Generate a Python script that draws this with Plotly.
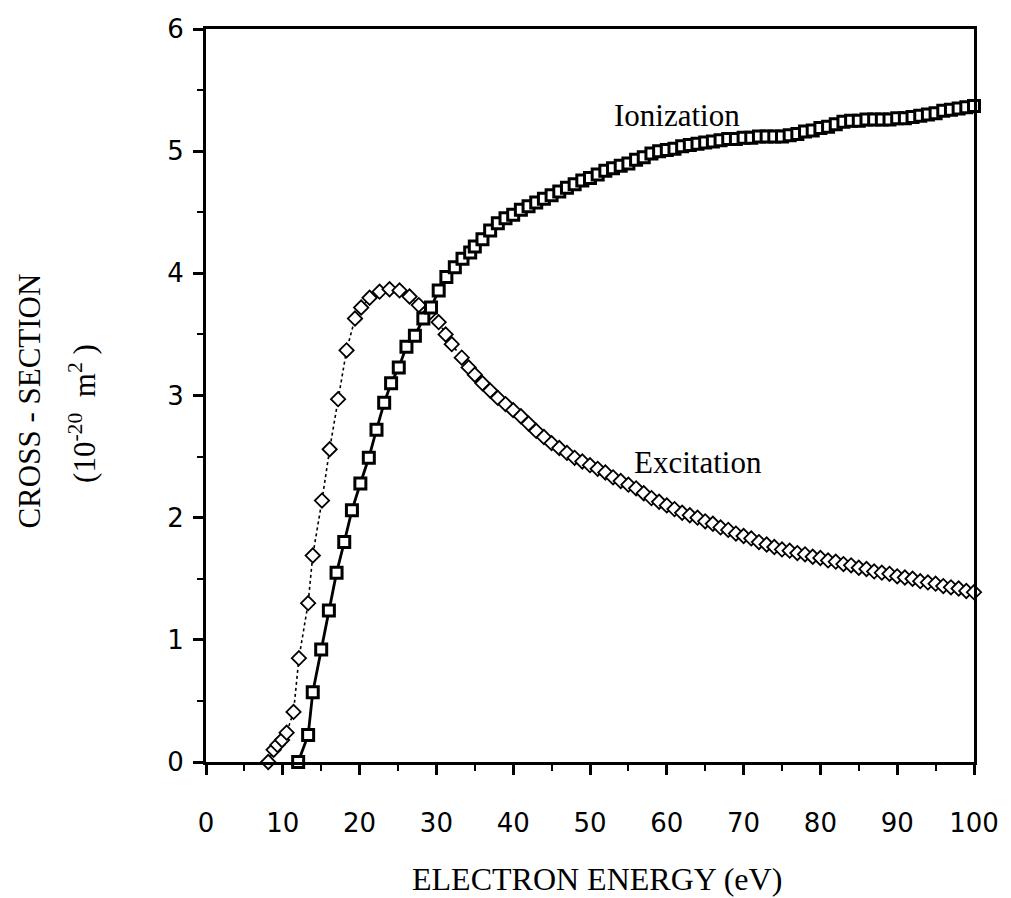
import plotly.graph_objects as go

# Ionization cross-section (10^-20 m^2) vs electron energy (eV)
ion_energy = [12.0, 13.3, 13.9, 15.0, 16.0, 17.0, 18.0, 19.0, 20.1, 21.2, 22.2, 23.2, 24.1,
              25.1, 26.1, 27.2, 28.3, 29.3, 30.3, 31.3, 32.4, 33.4, 34.4,
              35, 36, 37, 38, 39, 40, 41, 42, 43, 44, 45, 46, 47, 48, 49, 50,
              51, 52, 53, 54, 55, 56, 57, 58, 59, 60, 61, 62, 63, 64, 65, 66, 67,
              68, 69, 70, 71, 72, 73, 74, 75, 76, 77, 78, 79, 80, 81, 82, 83, 84,
              85, 86, 87, 88, 89, 90, 91, 92, 93, 94, 95, 96, 97, 98, 99, 100]
ion_cross = [0.0, 0.22, 0.57, 0.92, 1.24, 1.55, 1.80, 2.06, 2.28, 2.49, 2.72, 2.94, 3.10,
             3.23, 3.40, 3.49, 3.63, 3.72, 3.86, 3.97, 4.05, 4.12, 4.17,
             4.22, 4.28, 4.35, 4.41, 4.45, 4.48, 4.52, 4.55, 4.58, 4.61, 4.64, 4.67, 4.70, 4.73, 4.76, 4.78,
             4.81, 4.84, 4.86, 4.88, 4.90, 4.93, 4.95, 4.98, 5.00, 5.01, 5.02, 5.04, 5.05, 5.06, 5.07, 5.08, 5.09,
             5.10, 5.10, 5.11, 5.11, 5.12, 5.12, 5.12, 5.12, 5.13, 5.14, 5.16, 5.17, 5.19, 5.20, 5.22, 5.24, 5.25,
             5.25, 5.26, 5.26, 5.26, 5.26, 5.27, 5.27, 5.28, 5.29, 5.30, 5.31, 5.33, 5.34, 5.35, 5.36, 5.37]

# Excitation cross-section (10^-20 m^2) vs electron energy (eV)
exc_energy = [8.1, 8.8, 9.3, 9.9, 10.5, 11.4, 12.1, 13.3, 13.9, 15.1, 16.1, 17.2, 18.3, 19.4,
              20.2, 21.3, 22.6, 23.9, 25.2, 26.5, 27.7, 29.0, 30.3, 31.2, 32.0, 33.3, 34.2,
              35, 36, 37, 38, 39, 40, 41, 42, 43, 44, 45, 46, 47, 48, 49, 50,
              51, 52, 53, 54, 55, 56, 57, 58, 59, 60, 61, 62, 63, 64, 65, 66, 67,
              68, 69, 70, 71, 72, 73, 74, 75, 76, 77, 78, 79, 80, 81, 82, 83, 84,
              85, 86, 87, 88, 89, 90, 91, 92, 93, 94, 95, 96, 97, 98, 99, 100]
exc_cross = [0.0, 0.10, 0.14, 0.18, 0.24, 0.41, 0.85, 1.30, 1.69, 2.14, 2.56, 2.97, 3.37, 3.63,
             3.72, 3.80, 3.85, 3.87, 3.86, 3.81, 3.74, 3.67, 3.60, 3.50, 3.42, 3.31, 3.23,
             3.17, 3.10, 3.04, 2.98, 2.93, 2.88, 2.83, 2.77, 2.71, 2.66, 2.61, 2.57, 2.53, 2.49, 2.46, 2.43,
             2.40, 2.37, 2.33, 2.30, 2.27, 2.24, 2.20, 2.16, 2.13, 2.10, 2.07, 2.04, 2.02, 2.00, 1.97, 1.95, 1.92,
             1.90, 1.87, 1.85, 1.83, 1.80, 1.78, 1.76, 1.74, 1.73, 1.71, 1.70, 1.68, 1.67, 1.65, 1.64, 1.62, 1.61,
             1.59, 1.58, 1.56, 1.55, 1.54, 1.52, 1.51, 1.50, 1.48, 1.47, 1.46, 1.44, 1.43, 1.42, 1.40, 1.39]

x_ticks = [0, 10, 20, 30, 40, 50, 60, 70, 80, 90, 100]
y_ticks = [0, 1, 2, 3, 4, 5, 6]

fig = go.Figure()

fig.add_trace(go.Scatter(
    x=exc_energy, y=exc_cross, mode="lines+markers", name="Excitation",
    line=dict(color="black", width=1.6, dash="dot"),
    marker=dict(symbol="diamond", size=11, color="white",
                line=dict(color="black", width=1.8)),
    cliponaxis=False, showlegend=False,
))

fig.add_trace(go.Scatter(
    x=ion_energy, y=ion_cross, mode="lines+markers", name="Ionization",
    line=dict(color="black", width=2.8),
    marker=dict(symbol="square", size=11, color="white",
                line=dict(color="black", width=3)),
    cliponaxis=False, showlegend=False,
))

tick_font = dict(family="DejaVu Sans", size=26, color="black")
serif = "Liberation Serif, Times New Roman, serif"

fig.update_xaxes(
    range=[0, 100], tickvals=x_ticks, ticktext=[str(v) for v in x_ticks],
    showline=True, linewidth=3, linecolor="black", mirror=True,
    ticks="outside", ticklen=10, tickwidth=2.5, tickcolor="black",
    minor=dict(dtick=5, ticks="outside", ticklen=6, tickwidth=2, tickcolor="black"),
    showgrid=False, zeroline=False, tickfont=tick_font, ticklabelstandoff=26,
)
fig.update_yaxes(
    range=[0, 6], tickvals=y_ticks, ticktext=[str(v) for v in y_ticks],
    showline=True, linewidth=3, linecolor="black", mirror=True,
    ticks="outside", ticklen=10, tickwidth=2.5, tickcolor="black",
    minor=dict(dtick=0.5, ticks="outside", ticklen=6, tickwidth=2, tickcolor="black"),
    showgrid=False, zeroline=False, tickfont=tick_font, ticklabelstandoff=4,
)

fig.add_annotation(x=52.9, y=5.29, xref="x", yref="y", text="Ionization",
                   showarrow=False, xanchor="left", yanchor="middle",
                   font=dict(family=serif, size=31, color="black"))
fig.add_annotation(x=55.5, y=2.45, xref="x", yref="y", text="Excitation",
                   showarrow=False, xanchor="left", yanchor="middle",
                   font=dict(family=serif, size=31, color="black"))

fig.add_annotation(x=0.5097, y=-0.16, xref="paper", yref="paper",
                   text="ELECTRON ENERGY (eV)", showarrow=False,
                   xanchor="center", yanchor="middle",
                   font=dict(family=serif, size=32, color="black"))
fig.add_annotation(x=-0.2297, y=0.4925, xref="paper", yref="paper",
                   text="CROSS - SECTION", showarrow=False, textangle=-90,
                   xanchor="center", yanchor="middle",
                   font=dict(family=serif, size=31, color="black"))
fig.add_annotation(x=-0.16, y=0.475, xref="paper", yref="paper",
                   text="(10<sup>-20</sup>  m<sup>2</sup> )", showarrow=False, textangle=-90,
                   xanchor="center", yanchor="middle",
                   font=dict(family=serif, size=31, color="black"))

fig.update_layout(
    width=1011, height=898,
    margin=dict(l=206, r=30, t=29, b=136),
    plot_bgcolor="white", paper_bgcolor="white",
)

fig.write_html("out.html")
